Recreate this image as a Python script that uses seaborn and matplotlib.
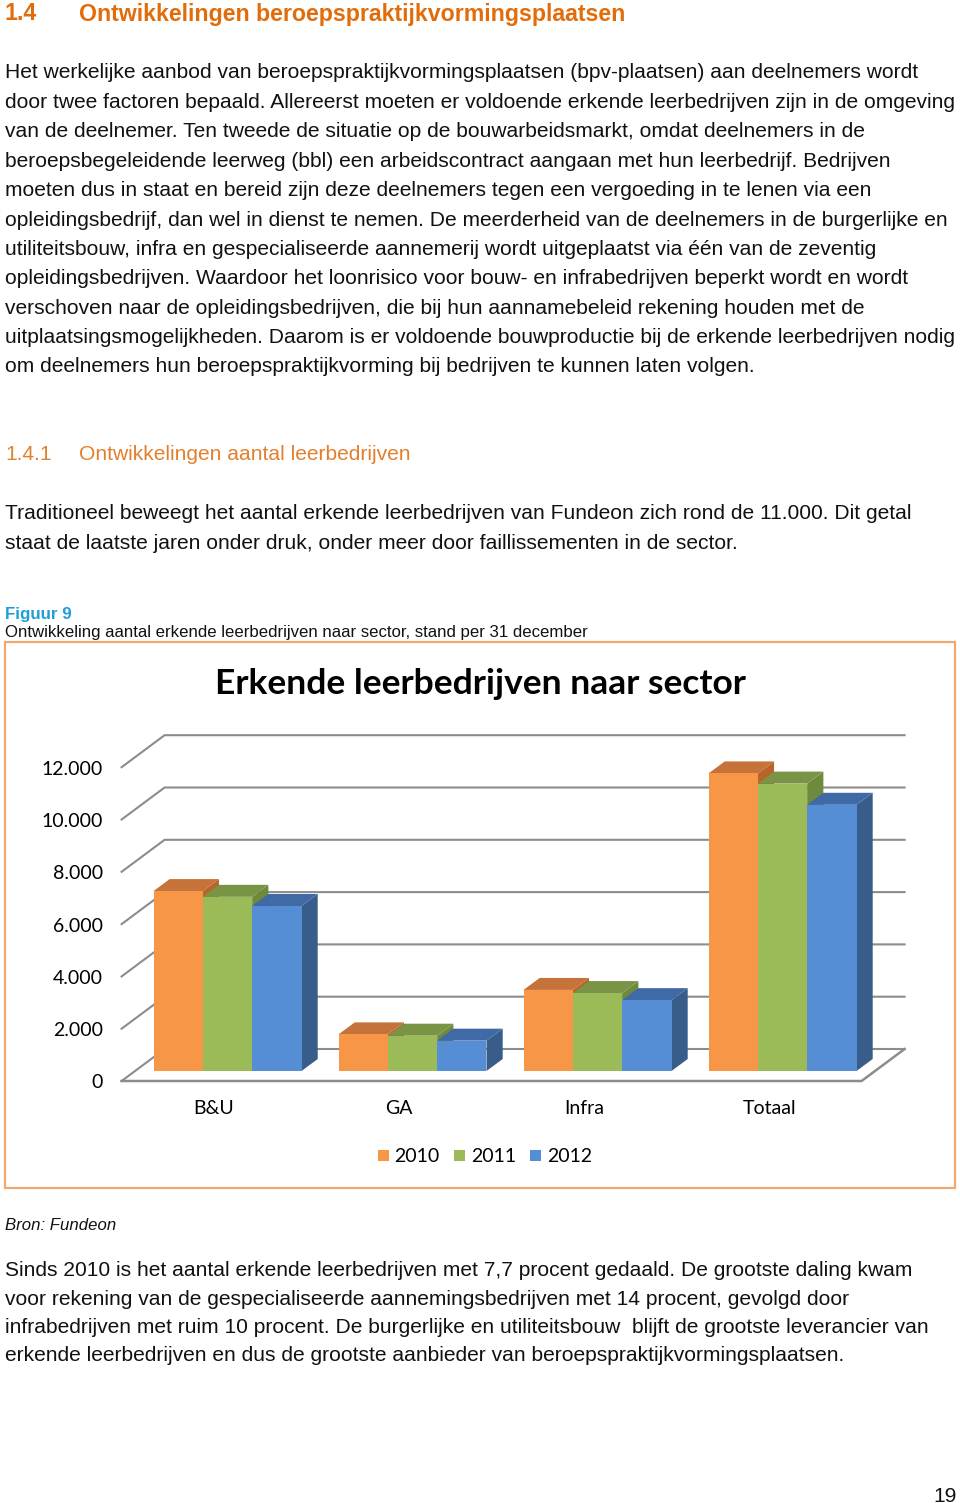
import numpy as np
import pandas as pd
import seaborn as sns
import matplotlib.pyplot as plt
from matplotlib.patches import Polygon, Rectangle

# chart data
sectors = ['B&U', 'GA', 'Infra', 'Totaal']
years = ['2010', '2011', '2012']
bu = [6880, 6660, 6310]
ga = [1400, 1350, 1160]
infra = [3100, 2980, 2710]
totaal = [11380, 10990, 10180]
yticks = [0, 2000, 4000, 6000, 8000, 10000, 12000]
ytick_labels = ['0', '2.000', '4.000', '6.000', '8.000', '10.000', '12.000']

front_colors = ['#F79646', '#9BBB59', '#558ED5']
top_colors = ['#C5733A', '#7A9445', '#3F6AA5']
side_colors = ['#B9642A', '#6E8A3C', '#385D8A']

# page text
heading = 'Ontwikkelingen beroepspraktijkvormingsplaatsen'
par1 = [
    'Het werkelijke aanbod van beroepspraktijkvormingsplaatsen (bpv-plaatsen) aan deelnemers wordt',
    'door twee factoren bepaald. Allereerst moeten er voldoende erkende leerbedrijven zijn in de omgeving',
    'van de deelnemer. Ten tweede de situatie op de bouwarbeidsmarkt, omdat deelnemers in de',
    'beroepsbegeleidende leerweg (bbl) een arbeidscontract aangaan met hun leerbedrijf. Bedrijven',
    'moeten dus in staat en bereid zijn deze deelnemers tegen een vergoeding in te lenen via een',
    'opleidingsbedrijf, dan wel in dienst te nemen. De meerderheid van de deelnemers in de burgerlijke en',
    'utiliteitsbouw, infra en gespecialiseerde aannemerij wordt uitgeplaatst via één van de zeventig',
    'opleidingsbedrijven. Waardoor het loonrisico voor bouw- en infrabedrijven beperkt wordt en wordt',
    'verschoven naar de opleidingsbedrijven, die bij hun aannamebeleid rekening houden met de',
    'uitplaatsingsmogelijkheden. Daarom is er voldoende bouwproductie bij de erkende leerbedrijven nodig',
    'om deelnemers hun beroepspraktijkvorming bij bedrijven te kunnen laten volgen.',
]
subheading = 'Ontwikkelingen aantal leerbedrijven'
par2 = [
    'Traditioneel beweegt het aantal erkende leerbedrijven van Fundeon zich rond de 11.000. Dit getal',
    'staat de laatste jaren onder druk, onder meer door faillissementen in de sector.',
]
par3 = [
    'Sinds 2010 is het aantal erkende leerbedrijven met 7,7 procent gedaald. De grootste daling kwam',
    'voor rekening van de gespecialiseerde aannemingsbedrijven met 14 procent, gevolgd door',
    'infrabedrijven met ruim 10 procent. De burgerlijke en utiliteitsbouw  blijft de grootste leverancier van',
    'erkende leerbedrijven en dus de grootste aanbieder van beroepspraktijkvormingsplaatsen.',
]

W, H = 960, 1503
fig = plt.figure(figsize=(W / 100, H / 100), dpi=100)
body = 'Liberation Sans'
chart_font = 'Lato'
ink = '#111111'
fs = 15.1
cfs = 14


def put(x, y, s, **kw):
    kw.setdefault('va', 'center')
    kw.setdefault('family', body)
    kw.setdefault('color', ink)
    fig.text(x / W, 1 - (y + 2) / H, s, **kw)


put(5, 12, '1.4', fontsize=16.7, weight='bold', color='#E36C0A')
put(79, 12, heading, fontsize=16.7, weight='bold', color='#E36C0A')
for i, line in enumerate(par1):
    put(5, 71 + i * 29.4, line, fontsize=fs)
put(5, 453, '1.4.1', fontsize=fs, color='#E3802F')
put(79, 453, subheading, fontsize=fs, color='#E3802F')
for i, line in enumerate(par2):
    put(5, 512 + i * 29.4, line, fontsize=fs)
put(5, 612, 'Figuur 9', fontsize=12.2, weight='bold', color='#1E9FD8')
put(5, 631, 'Ontwikkeling aantal erkende leerbedrijven naar sector, stand per 31 december', fontsize=12.05)
put(5, 1223, 'Bron: Fundeon', fontsize=12.1, style='italic')
for i, line in enumerate(par3):
    put(5, 1269 + i * 28.2, line, fontsize=fs)
put(957, 1494, '19', fontsize=fs, ha='right')

# chart frame
fig.add_artist(Rectangle((5 / W, 1 - 1188 / H), 950 / W, 546 / H, transform=fig.transFigure,
                         fill=False, edgecolor='#EDA970', lw=1.6))
put(480, 682, 'Erkende leerbedrijven naar sector', fontsize=25.5, weight='bold',
    family=chart_font, ha='center', color='#000000')

# plot area = front plane of the bars
ax_h = 313.8
ax = fig.add_axes([135 / W, (H - 1071) / H, 740 / W, ax_h / H])

df = pd.DataFrame({
    'sector': np.repeat(sectors, len(years)),
    'year': years * len(sectors),
    'value': bu + ga + infra + totaal,
})
sns.barplot(data=df, x='sector', y='value', hue='year', palette=front_colors,
            saturation=1, width=0.8, linewidth=0, legend=False, ax=ax)
ax.set_xlim(-0.5, 3.5)
ax.set_ylim(0, 12000)
ax.axis('off')

# pixel -> data conversion for the depth offsets
ux = 4 / 740
uy = 12000 / ax_h
dep = (16.2 * ux, 12 * uy)       # bar depth
front = (-13.4 * ux, -10 * uy)   # front edge of the floor
back = (29.6 * ux, 22 * uy)      # back wall

grid_col = '#8C8C8C'
for v in yticks:
    ax.plot([-0.5 + front[0], -0.5 + back[0], 3.5 + back[0]],
            [v + front[1], v + back[1], v + back[1]],
            color=grid_col, lw=1.5, clip_on=False, zorder=1)
ax.plot([-0.5 + front[0], 3.5 + front[0], 3.5 + back[0]],
        [front[1], front[1], back[1]], color=grid_col, lw=1.8, clip_on=False, zorder=1)

for lab, v in zip(ytick_labels, yticks):
    ax.text(-0.5 + (103 - 135) * ux, v + front[1] - 2 * uy, lab, ha='right', va='center',
            fontsize=cfs, family=chart_font, color='#000000')
for i, s in enumerate(sectors):
    ax.text(i + front[0], -38 * uy, s, ha='center', va='center',
            fontsize=cfs, family=chart_font, color='#000000')

# 3d look: top and right side faces on each seaborn bar
bars = sorted(ax.patches, key=lambda p: p.get_x())
for k, p in enumerate(bars):
    c = k % len(years)
    x0, x1, h = p.get_x(), p.get_x() + p.get_width(), p.get_height()
    z = 2 + k * 0.01
    dx, dy = dep
    ax.add_patch(Polygon([(x1, 0), (x1 + dx, dy), (x1 + dx, h + dy), (x1, h)],
                         facecolor=side_colors[c], lw=0, zorder=z, clip_on=False))
    ax.add_patch(Polygon([(x0, h), (x1, h), (x1 + dx, h + dy), (x0 + dx, h + dy)],
                         facecolor=top_colors[c], lw=0, zorder=z, clip_on=False))
    p.set_zorder(z + 0.005)
    p.set_clip_on(False)

handles = [Rectangle((0, 0), 1, 1, facecolor=col, lw=0) for col in front_colors]
fig.legend(handles, years, loc='center', bbox_to_anchor=(485 / W, 1 - 1157 / H), ncol=3,
           frameon=False, handlelength=0.55, handleheight=0.55, handletextpad=0.3,
           columnspacing=0.75, prop={'family': chart_font, 'size': cfs})

fig.savefig('out.png', dpi=100)
